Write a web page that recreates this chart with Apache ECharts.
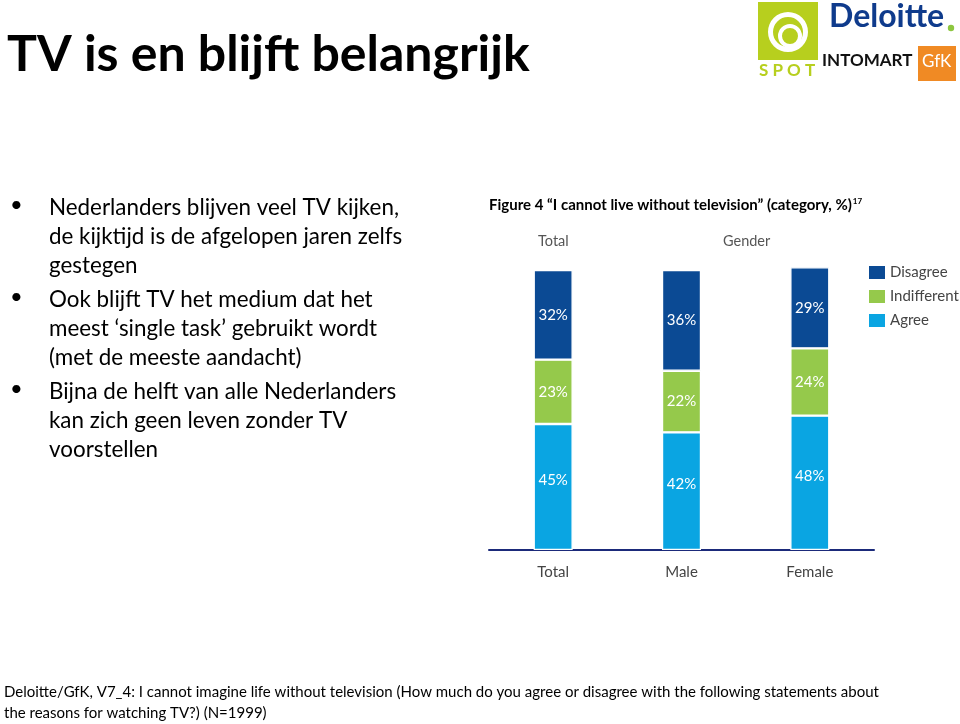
<!DOCTYPE html>
<html><head><meta charset="utf-8">
<script src="https://cdn.jsdelivr.net/npm/echarts@6/dist/echarts.min.js"></script>
<style>html,body{margin:0;padding:0;background:#fff}#c{width:960px;height:724px}</style>
</head><body><div id="c"></div>
<script>
const categories = ['Total', 'Male', 'Female'];
const agree = [45, 42, 48];
const indifferent = [23, 22, 24];
const disagree = [32, 36, 29];
const seriesNames = ['Disagree', 'Indifferent', 'Agree'];
const bullets = [
  ['Nederlanders blijven veel TV kijken,', 'de kijktijd is de afgelopen jaren zelfs', 'gestegen'],
  ['Ook blijft TV het medium dat het', 'meest \u2018single task\u2019 gebruikt wordt', '(met de meeste aandacht)'],
  ['Bijna de helft van alle Nederlanders', 'kan zich geen leven zonder TV', 'voorstellen']
];
const footnote = ['Deloitte/GfK, V7_4: I cannot imagine life without television (How much do you agree or disagree with the following statements about', 'the reasons for watching TV?) (N=1999)'];

const C_DIS = '#0b4a94', C_IND = '#95c94b', C_AGR = '#0aa5e2';
const F = 'Lato, "Open Sans", sans-serif';

const graphics = [];
graphics.push({type:'text', left:7, top:30, style:{text:'TV is en blijft belangrijk', font:'bold 50px ' + F, fill:'#000'}});
let y = 197;
bullets.forEach(b => {
  graphics.push({type:'text', left:10, top:y-3, style:{text:'\u2022', font:'22px ' + F, fill:'#000'}});
  b.forEach((line, i) => {
    graphics.push({type:'text', left:49, top:y + i*29, style:{text:line, font:'22.4px ' + F, fill:'#000'}});
  });
  y += 3*29 + 5;
});
graphics.push({type:'text', left:489, top:197, style:{
  text:'{a|Figure 4 \u201CI cannot live without television\u201D (category, %)}{s|17}',
  rich:{a:{fontSize:15, fontWeight:'bold', fontFamily:F, color:'#333'},
        s:{fontSize:8, fontWeight:'bold', fontFamily:F, color:'#333', padding:[0,0,8,1]}}}});
graphics.push({type:'text', left:538, top:234, style:{text:'Total', font:'14.5px ' + F, fill:'#555'}});
graphics.push({type:'text', left:723, top:234, style:{text:'Gender', font:'14.5px ' + F, fill:'#555'}});
footnote.forEach((line, i) => {
  graphics.push({type:'text', left:4, top:685 + i*21, style:{text:line, font:'15px ' + F, fill:'#000'}});
});
// logos
graphics.push({type:'rect', shape:{x:758, y:2, width:60, height:58}, style:{fill:'#b7cf1e'}});
graphics.push({type:'ring', shape:{cx:788, cy:32, r:20, r0:15}, style:{fill:'#fff'}});
graphics.push({type:'ring', shape:{cx:790, cy:36, r:12, r0:8}, style:{fill:'#fff'}});
graphics.push({type:'text', left:759, top:62, style:{text:'S P O T', font:'bold 17px ' + F, fill:'#b7cf1e'}});
graphics.push({type:'text', left:829, top:1, style:{text:'Deloitte', font:'bold 32px ' + F, fill:'#0f3b8c'}});
graphics.push({type:'circle', shape:{cx:951, cy:28, r:3.2}, style:{fill:'#8dc63f'}});
graphics.push({type:'text', left:822, top:52, style:{text:'INTOMART', font:'bold 17px ' + F, fill:'#111'}});
graphics.push({type:'rect', shape:{x:918, y:46, width:38, height:35}, style:{fill:'#f08a24'}});
graphics.push({type:'text', left:922, top:53, style:{text:'GfK', font:'17px ' + F, fill:'#fff'}});

const lbl = (off) => ({show:true, position:'inside', offset:off, color:'#fff', fontSize:15, fontFamily:F, formatter: p => p.value + '%'});
const common = {type:'bar', stack:'s', barWidth:39, clip:false, itemStyle:{borderColor:'#fff', borderWidth:1.2}};

const chart = echarts.init(document.getElementById('c'));
chart.setOption({
  animation:false,
  backgroundColor:'#fff',
  graphic: graphics,
  legend:{
    data: seriesNames, orient:'vertical', left:862, top:259, itemWidth:18, itemHeight:15, itemGap:7, icon:'rect',
    textStyle:{fontSize:15, color:'#444', fontFamily:F, lineHeight:16, padding:[0,0,0,-1]}
  },
  grid:{left:489, right:86, top:270, bottom:174},
  xAxis:{type:'category', data:categories, axisTick:{show:false},
    axisLine:{lineStyle:{color:'#1b2a7a', width:2}},
    axisLabel:{margin:15, fontSize:15, color:'#444', fontFamily:F}},
  yAxis:{type:'value', min:0, max:100, show:false, splitLine:{show:false}},
  series:[
    Object.assign({}, common, {name:'Agree', data:agree, itemStyle:Object.assign({}, common.itemStyle, {color:C_AGR}), label:lbl([0,-7])}),
    Object.assign({}, common, {name:'Indifferent', data:indifferent, itemStyle:Object.assign({}, common.itemStyle, {color:C_IND}), label:lbl([0,0])}),
    Object.assign({}, common, {name:'Disagree', data:disagree, itemStyle:Object.assign({}, common.itemStyle, {color:C_DIS}), label:lbl([0,0])})
  ]
});
</script></body></html>
